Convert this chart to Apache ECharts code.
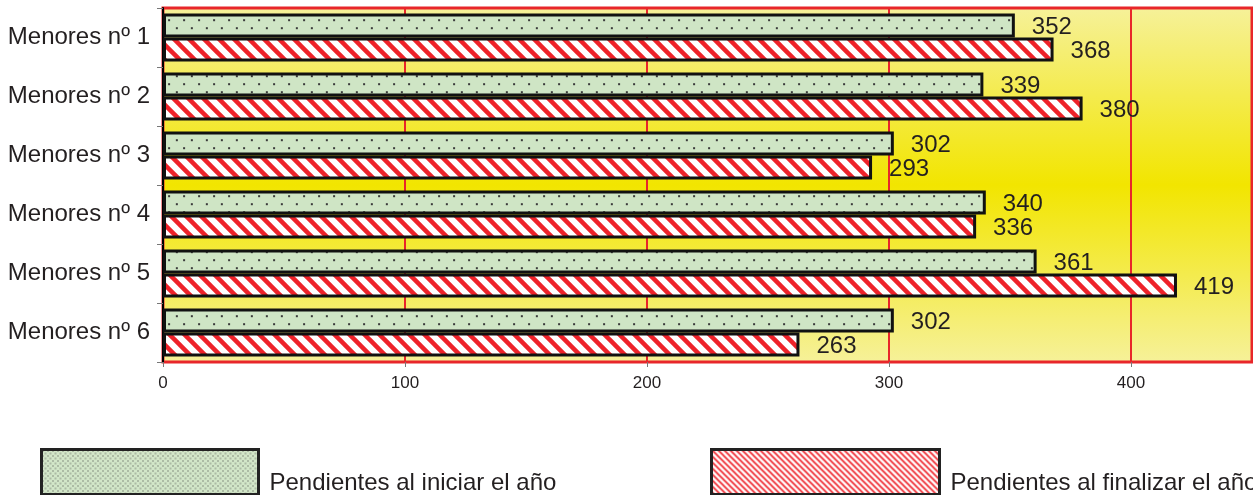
<!DOCTYPE html>
<html><head><meta charset="utf-8">
<script src="https://cdn.jsdelivr.net/npm/echarts@6/dist/echarts.min.js"></script>
<style>html,body{margin:0;padding:0;background:#fff}#c{width:1253px;height:495px}</style>
</head><body><div id="c"></div>
<script>
const categories = ['Menores nº 1','Menores nº 2','Menores nº 3','Menores nº 4','Menores nº 5','Menores nº 6'];
const seriesNames = ['Pendientes al iniciar el año','Pendientes al finalizar el año'];
const inicio = [352, 339, 302, 340, 361, 302];
const final = [368, 380, 293, 336, 419, 263];
const xTicks = [0, 100, 200, 300, 400];

function dotPattern(w, h, d, bg){
  const c = document.createElement('canvas'); c.width = w; c.height = h;
  const g = c.getContext('2d');
  g.fillStyle = bg; g.fillRect(0,0,w,h);
  g.fillStyle = '#3a3a3a';
  g.fillRect(w*0.2, h*0.2, d, d); g.fillRect(w*0.7, h*0.7, d, d);
  return c;
}
function stripePattern(s, lw){
  const c = document.createElement('canvas'); c.width = s; c.height = s;
  const g = c.getContext('2d');
  g.fillStyle = '#ffffff'; g.fillRect(0,0,s,s);
  g.strokeStyle = '#ee2229'; g.lineWidth = lw;
  for (let k=-1;k<=1;k++){
    g.beginPath(); g.moveTo(k*s-2, -2); g.lineTo(k*s+s+2, s+2); g.stroke();
  }
  return c;
}
const fam = 'Liberation Sans, Arial, sans-serif';
const chart = echarts.init(document.getElementById('c'), null, {renderer:'canvas'});
const labelStyle = {show:true, position:'right', distance:17, offset:[0,2], fontSize:24, color:'#231f20', fontFamily:fam};
const legendText = {fontSize:24, color:'#231f20', rich:{a:{fontSize:24, color:'#231f20', fontFamily:fam, padding:[22,0,0,6]}}};
chart.setOption({
  animation:false,
  textStyle:{fontFamily:fam},
  grid:{left:163, top:8, right:1, bottom:133, show:true,
    borderColor:'#e8262a', borderWidth:3,
    backgroundColor:{type:'linear',x:0,y:0,x2:0,y2:1,colorStops:[
      {offset:0,color:'#f6f19a'},{offset:0.5,color:'#f2e500'},{offset:1,color:'#f6f19a'}]}},
  xAxis:{type:'value', min:0, max:450, interval:100,
    axisLine:{show:false}, axisTick:{show:true, length:5, lineStyle:{color:'#777'}},
    splitLine:{show:true, lineStyle:{color:'#e8262a', width:2}},
    axisLabel:{fontSize:17, color:'#231f20', margin:13, showMaxLabel:false,
      formatter: v => xTicks.includes(v) ? String(v) : ''}},
  yAxis:{type:'category', data:categories, inverse:true,
    axisLine:{show:true, lineStyle:{color:'#000', width:2}},
    axisTick:{show:true, length:6, lineStyle:{color:'#777'}},
    axisLabel:{fontSize:24, color:'#231f20', margin:13}},
  legend:[
    {data:[{name:seriesNames[0], icon:'rect',
        itemStyle:{color:{image:dotPattern(5,5,1,'#d2e6c8'), repeat:'repeat'}, borderColor:'#222', borderWidth:3}}],
      left:40, top:448, padding:0, itemWidth:217, itemHeight:45, itemGap:0,
      formatter:'{a|{name}}', textStyle:legendText},
    {data:[{name:seriesNames[1], icon:'rect',
        itemStyle:{color:{image:stripePattern(6,1.6), repeat:'repeat'}, borderColor:'#222', borderWidth:3}}],
      left:710, top:448, padding:0, itemWidth:228, itemHeight:45, itemGap:0,
      formatter:'{a|{name}}', textStyle:legendText}
  ],
  series:[
    {name:seriesNames[0], type:'bar', data:inicio, barWidth:24, barGap:'0%',
      itemStyle:{color:{image:dotPattern(15.5,16,2,'#cfe5c5'), repeat:'repeat'}, borderColor:'#111', borderWidth:3},
      label:labelStyle},
    {name:seriesNames[1], type:'bar', data:final, barWidth:24,
      itemStyle:{color:{image:stripePattern(15,4.5), repeat:'repeat'}, borderColor:'#111', borderWidth:3},
      label:labelStyle}
  ]
});
</script></body></html>
